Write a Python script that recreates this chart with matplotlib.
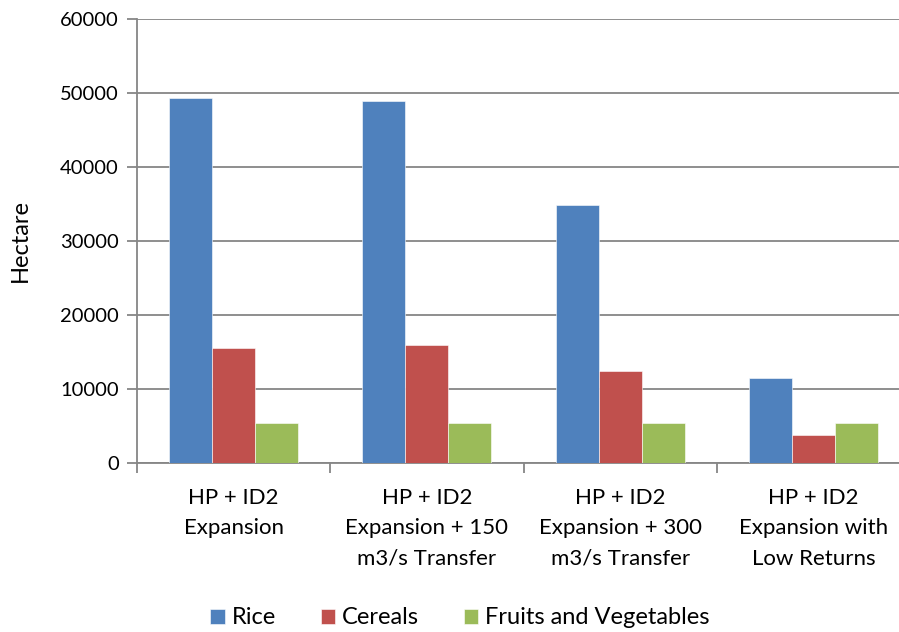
import matplotlib
matplotlib.use("Agg")
import matplotlib.pyplot as plt
import numpy as np

# crop areas per scenario (hectare)
scenarios = ["HP + ID2\nExpansion",
             "HP + ID2\nExpansion + 150\nm3/s Transfer",
             "HP + ID2\nExpansion + 300\nm3/s Transfer",
             "HP + ID2\nExpansion with\nLow Returns"]
crops = ["Rice", "Cereals", "Fruits and Vegetables"]
rice = [49300, 48900, 34900, 11500]
cereals = [15500, 15900, 12400, 3800]
fruits_veg = [5400, 5400, 5400, 5400]
yticks = [0, 10000, 20000, 30000, 40000, 50000, 60000]

colors = ["#4F81BD", "#C0504D", "#9BBB59"]
grey = "#868686"

plt.rcParams["font.family"] = ["Lato", "DejaVu Sans"]
plt.rcParams["font.size"] = 14

fig = plt.figure(figsize=(8.99, 6.32), dpi=100)
# axes runs slightly past the right edge of the figure
ax = fig.add_axes([137 / 899, 1 - 463 / 632, (910 - 137) / 899, (463 - 19) / 632])

x = np.arange(len(scenarios))
w = 1 / 4.5
for i, (vals, name) in enumerate(zip([rice, cereals, fruits_veg], crops)):
    ax.bar(x + (i - 1) * w, vals, w, color=colors[i], label=name,
           edgecolor="white", linewidth=0.4, zorder=3)

ax.set_xlim(-0.5, len(scenarios) - 0.5)
ax.set_ylim(0, 60000)
ax.set_yticks(yticks)
ax.set_yticklabels([str(v) for v in yticks])
ax.yaxis.grid(True, color=grey, linewidth=1.3, zorder=0)

ax.set_xticks(np.arange(len(scenarios) + 1) - 0.5)
ax.set_xticklabels([])
for xi, lab in zip(x, scenarios):
    ax.text(xi, -0.056, lab, transform=ax.get_xaxis_transform(),
            ha="center", va="top", fontsize=16, linespacing=1.65)

for s in ["top", "right"]:
    ax.spines[s].set_visible(False)
for s in ["left", "bottom"]:
    ax.spines[s].set_color(grey)
    ax.spines[s].set_linewidth(1.3)
ax.tick_params(axis="both", color=grey, width=1.3, length=7, direction="out")
ax.tick_params(axis="y", pad=6, labelsize=14.5)

fig.text(20 / 899, 1 - 240 / 632, "Hectare", rotation=90, ha="center",
         va="center", fontsize=17)

fig.legend(loc="center", bbox_to_anchor=(460 / 899, 1 - 618 / 632), ncol=3,
           frameon=False, fontsize=17, handlelength=0.6, handleheight=0.6,
           handletextpad=0.3, columnspacing=1.9)

fig.savefig("out.png", dpi=100)
